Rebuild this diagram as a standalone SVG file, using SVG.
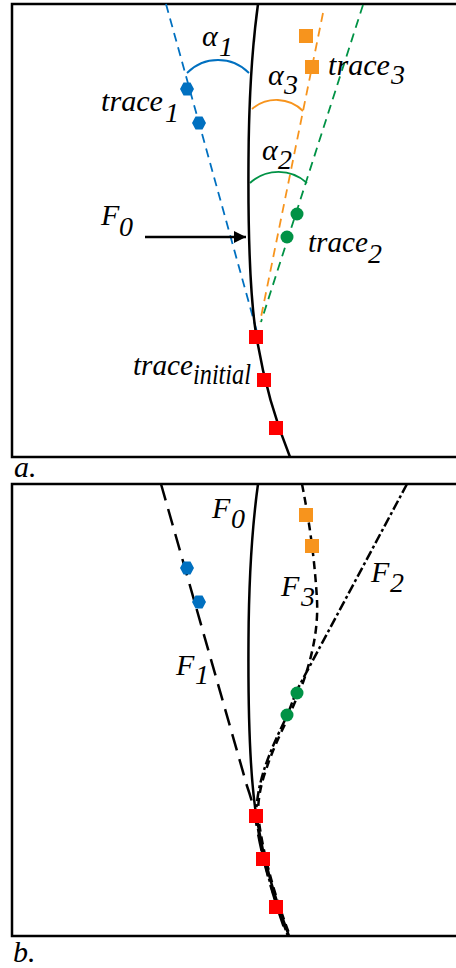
<svg xmlns="http://www.w3.org/2000/svg" width="456" height="968" viewBox="0 0 456 968">
<style>
.frame{fill:none;stroke:#000;stroke-width:2.5}
.fault{fill:none;stroke:#000;stroke-width:2.5}
.lbl{font-family:"Liberation Serif","Times New Roman",serif;font-style:italic;font-size:30px;fill:#000}
.sub{font-size:28px}
.blue{stroke:#0070C0}
.orange{stroke:#F7941D}
.green{stroke:#009245}
.cdash{fill:none;stroke-width:1.8;stroke-dasharray:9 6}
.arc{fill:none;stroke-width:1.8}
.red{fill:#FF0000}
.hex{fill:#0070C0}
.sq{fill:#F7941D}
.dot{fill:#009245}
.ld{fill:none;stroke:#000;stroke-width:2.5;stroke-dasharray:17 9}
.sd{fill:none;stroke:#000;stroke-width:2.5;stroke-dasharray:8 5}
.dd{fill:none;stroke:#000;stroke-width:2.5;stroke-dasharray:10 3 3 3}
</style>
<defs>
<marker id="ah" viewBox="0 0 10 10" refX="10" refY="5" markerWidth="5" markerHeight="5" orient="auto" markerUnits="strokeWidth">
<path d="M0,0 L10,5 L0,10 z" fill="#000"/>
</marker>
<polygon id="hexagon" points="-7,0 -3.5,-6.5 3.5,-6.5 7,0 3.5,6.5 -3.5,6.5"/>
</defs>

<!-- Panel a -->
<g id="panel-a">
<rect class="frame" x="12" y="4" width="460" height="453"/>
<text class="lbl" x="14" y="477">a.</text>
</g>

<g id="connectors-a">
<path class="cdash blue" d="M166,4 L257,332"/>
<path class="cdash orange" d="M323,13 L260,322"/>
<path class="cdash green" d="M363,5 L261,322"/>
<path class="arc blue" d="M187,73 A43.5,43.5 0 0 1 249,73"/>
<path class="arc orange" d="M252,109 A37.5,37.5 0 0 1 303,111"/>
<path class="arc green" d="M250,183 A42,42 0 0 1 307,183"/>
<path class="fault" d="M258,4 Q249,70 248.5,160 C248,230 250,300 257,340 C263,375 275,420 290,457"/>
<line x1="145" y1="237" x2="246" y2="237" stroke="#000" stroke-width="2.5" marker-end="url(#ah)"/>
</g>

<g id="trace1-a">
<use href="#hexagon" class="hex" x="187" y="89"/>
<use href="#hexagon" class="hex" x="199" y="123"/>
<text class="lbl" x="101" y="111" textLength="62" lengthAdjust="spacingAndGlyphs">trace</text>
<text class="lbl sub" x="165" y="122">1</text>
</g>
<g id="trace3-a">
<rect class="sq" x="299" y="29" width="14" height="14"/>
<rect class="sq" x="305" y="60" width="14" height="14"/>
<text class="lbl" x="328" y="75" textLength="62" lengthAdjust="spacingAndGlyphs">trace</text>
<text class="lbl sub" x="391" y="84">3</text>
</g>
<g id="trace2-a">
<circle class="dot" cx="297" cy="214" r="6.5"/>
<circle class="dot" cx="287" cy="237" r="6.5"/>
<text class="lbl" x="308" y="252" textLength="60" lengthAdjust="spacingAndGlyphs">trace</text>
<text class="lbl sub" x="368" y="263">2</text>
</g>
<g id="traceinit-a">
<rect class="red" x="249" y="330" width="14" height="14"/>
<rect class="red" x="257" y="373" width="14" height="14"/>
<rect class="red" x="269" y="421" width="14" height="14"/>
<text class="lbl" x="133" y="375" textLength="60" lengthAdjust="spacingAndGlyphs">trace</text>
<text class="lbl" x="193" y="384" font-size="26" textLength="58" lengthAdjust="spacingAndGlyphs">initial</text>
</g>
<g id="labels-a">
<text class="lbl" x="202" y="46">α</text><text class="lbl sub" x="219" y="56">1</text>
<text class="lbl" x="268" y="85">α</text><text class="lbl sub" x="284" y="94">3</text>
<text class="lbl" x="262" y="160">α</text><text class="lbl sub" x="278" y="169">2</text>
<text class="lbl" x="101" y="225">F</text><text class="lbl sub" x="119" y="236">0</text>
</g>

<!-- Panel b -->
<g id="panel-b">
<rect class="frame" x="12" y="484" width="460" height="452"/>
<text class="lbl" x="13" y="962">b.</text>
</g>

<g id="connectors-b">
<path class="fault" d="M258,484 Q249,550 248.5,640 C248,710 250,780 257,820 C263,855 275,900 289,936"/>
<path class="ld" d="M161,484 L247,786 Q254,806 256,822 C262,860 274,900 287,936"/>
<path class="sd" d="M302,484 Q314,545 317,600 Q319,640 301,688 L289,716 Q273,748 266,770 Q258,792 258,814 C263,858 277,902 290,936"/>
<path class="dd" d="M407,484 L297,690 L287,716 Q271,748 264,770 Q257,792 256,814 C261,858 275,902 288,936"/>
</g>

<g id="F1-b">
<use href="#hexagon" class="hex" x="187" y="568"/>
<use href="#hexagon" class="hex" x="199" y="602"/>
<text class="lbl" x="176" y="675">F</text><text class="lbl sub" x="195" y="684">1</text>
</g>
<g id="F3-b">
<rect class="sq" x="299" y="508" width="14" height="14"/>
<rect class="sq" x="305" y="539" width="14" height="14"/>
<text class="lbl" x="281" y="596">F</text><text class="lbl sub" x="301" y="606">3</text>
</g>
<g id="F2-b">
<circle class="dot" cx="297" cy="693" r="6.5"/>
<circle class="dot" cx="287" cy="715" r="6.5"/>
<text class="lbl" x="371" y="582">F</text><text class="lbl sub" x="390" y="592">2</text>
</g>
<g id="F0-b">
<rect class="red" x="249" y="809" width="14" height="14"/>
<rect class="red" x="256" y="852" width="14" height="14"/>
<rect class="red" x="269" y="900" width="14" height="14"/>
<text class="lbl" x="212" y="518">F</text><text class="lbl sub" x="231" y="528">0</text>
</g>
</svg>
